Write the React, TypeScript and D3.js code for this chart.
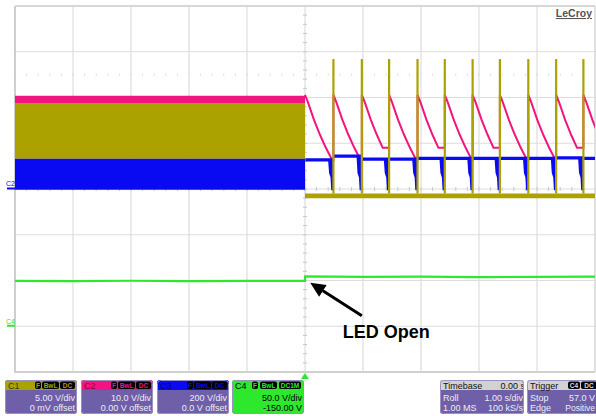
import React, { useEffect } from 'react';
import * as d3 from 'd3';

// ---------- screen / channel settings ----------
const timeDomain: [number, number] = [-5, 5]; // s (1.00 s/div, 10 div)
const divDomain: [number, number] = [-4, 4];  // vertical divisions
const channelNames = ['C1', 'C2', 'C3', 'C4'];
const voltsPerDiv = [5, 10, 200, 50];
const offsetVolts = [0, 0, 0, -150];

// ---------- data (volts) ----------
// before the LED opens (t < 0): min/max envelopes
const c1EnvelopeBefore = [3.3, 9.4];
const c2EnvelopeBefore = [18.8, 20.4];
const c3EnvelopeBefore = [-3, 132];
const c4Before: [number, number][] = [[-5, 49.6], [-4, 49.3], [-3, 49.7], [-2, 49.4], [-1, 49.6], [0, 49.5]];

// after the LED opens
const c1BaseAfter = [-1.0, -0.5];
const c1SpikeTop = 14.2;
const spikeTimes = [0.49, 0.98, 1.45, 1.94, 2.41, 2.89, 3.36, 3.85, 4.33, 4.8];
const c2DecayAfterReset: [number, number][] = [[0, 20.6], [0.05, 19.0], [0.155, 15.1], [0.26, 11.8], [0.36, 9.0], [0.47, 6.3]];
const c3LevelsAfter = [127, 144, 131, 131, 134, 134, 134, 134, 134, 136, 134];
const c3DipLowBeforeSpike: [number, number][] = [[-0.075, 70], [-0.05, 50], [-0.038, -6], [-0.004, -6]];
const c4After: [number, number][] = [[0, 54.6], [1, 54.0], [2, 54.3], [3, 53.6], [4, 54.0], [5, 54.2]];

// channel panel texts
const panelVdivText = ['5.00 V/div', '10.0 V/div', '200 V/div', '50.0 V/div'];
const panelOffsetText = ['0 mV offset', '0.00 V offset', '0.0 V offset', '-150.00 V'];
const timebaseTexts = ['Timebase', '0.00 s', 'Roll', '1.00 s/div', '1.00 MS', '100 kS/s'];
const triggerTexts = ['Trigger', 'Stop', '57.0 V', 'Edge', 'Positive'];

// annotation (time s, divisions)
const annotationTip: [number, number] = [0.09, -2.05];
const annotationTail: [number, number] = [0.98, -2.77];
const annotationLabelPos: [number, number] = [0.65, -3.26];
const annotationLabel = 'LED Open';

const COL = {
  c1: '#aba200',
  c2: '#f2157f',
  c3: '#0a0af2',
  c4: '#2ee82e',
  grid: '#dddddd',
  panel: '#6e5fa8',
};

const FONT = '"Liberation Sans", Arial, Helvetica, sans-serif';

export default function App() {
  useEffect(() => {
    document.body.style.margin = '0';
  }, []);

  const W = 596, H = 416;
  const x = d3.scaleLinear().domain(timeDomain).range([15, 595]);
  const y = d3.scaleLinear().domain(divDomain).range([372, 6]);
  const toDiv = (ch: number, v: number) => (v + offsetVolts[ch]) / voltsPerDiv[ch];
  const yv = (ch: number, v: number) => y(toDiv(ch, v));

  const line = (ch: number) =>
    d3.line<[number, number]>().x(d => x(d[0])).y(d => yv(ch, d[1]));

  type Band = { t: number; lo: number; hi: number };
  const band = (ch: number) =>
    d3.area<Band>().x(d => x(d.t)).y0(d => yv(ch, d.lo)).y1(d => yv(ch, d.hi));

  // ---- C1 ----
  const c1Before: Band[] = [
    { t: timeDomain[0], lo: c1EnvelopeBefore[0], hi: c1EnvelopeBefore[1] },
    { t: 0, lo: c1EnvelopeBefore[0], hi: c1EnvelopeBefore[1] },
  ];
  const c1After: Band[] = [
    { t: 0, lo: c1BaseAfter[0], hi: c1EnvelopeBefore[0] },
    { t: 0.004, lo: c1BaseAfter[0], hi: c1BaseAfter[1] },
    { t: timeDomain[1], lo: c1BaseAfter[0], hi: c1BaseAfter[1] },
  ];

  // ---- C2 ----
  const c2Before: Band[] = [
    { t: timeDomain[0], lo: c2EnvelopeBefore[0], hi: c2EnvelopeBefore[1] },
    { t: 0, lo: c2EnvelopeBefore[0], hi: c2EnvelopeBefore[1] },
  ];
  const resets = [0, ...spikeTimes];
  const c2AfterPts: [number, number][] = [];
  resets.forEach((r, k) => {
    const end = k + 1 < resets.length ? resets[k + 1] : timeDomain[1] + 0.5;
    let last = c2DecayAfterReset[0][1];
    c2DecayAfterReset.forEach(([dt, v]) => {
      if (r + dt < end) {
        c2AfterPts.push([r + dt, v]);
        last = v;
      }
    });
    c2AfterPts.push([end, last]);
  });

  // ---- C3 ----
  const c3Before: Band[] = [
    { t: timeDomain[0], lo: c3EnvelopeBefore[0], hi: c3EnvelopeBefore[1] },
    { t: 0, lo: c3EnvelopeBefore[0], hi: c3EnvelopeBefore[1] },
  ];
  const c3AfterPts: Band[] = [];
  resets.forEach((r, k) => {
    const L = c3LevelsAfter[k];
    const end = k + 1 < resets.length ? resets[k + 1] : timeDomain[1] + 0.2;
    c3AfterPts.push({ t: r + 0.006, lo: L - 7, hi: L + 7 });
    if (k + 1 < resets.length) {
      c3AfterPts.push({ t: end - 0.09, lo: L - 7, hi: L + 7 });
      c3DipLowBeforeSpike.forEach(([dt, v]) => c3AfterPts.push({ t: end + dt, lo: v, hi: L + 7 }));
    } else {
      c3AfterPts.push({ t: end, lo: L - 7, hi: L + 7 });
    }
  });

  // ---- grid ----
  const vLines = d3.range(-5, 5.01, 1);
  const hLines = d3.range(-4, 4.01, 1);
  const minorX = d3.range(-5, 5.001, 0.2);
  const minorY = d3.range(-4, 4.001, 0.2);

  // ---- bottom panels ----
  const boxW = 72;
  const boxXs = [5, 81, 157, 232];
  const headerCols = [COL.c1, COL.c2, COL.c3, COL.c4];
  const headerTextCols = ['#3d3a00', '#8a0045', '#00006e', '#000000'];

  const icon = (bx: number, w: number, label: string, col: string, key: string) => (
    <g key={key}>
      <rect x={bx} y={381.5} width={w} height={7.5} rx={2} fill="#000" />
      <text x={bx + w / 2} y={387.8} fontSize={6.5} fontWeight="bold" textAnchor="middle" fill={col} fontFamily={FONT}>
        {label}
      </text>
    </g>
  );

  // arrow
  const tip = [x(annotationTip[0]), y(annotationTip[1])];
  const tail = [x(annotationTail[0]), y(annotationTail[1])];
  const ang = Math.atan2(tip[1] - tail[1], tip[0] - tail[0]);
  const headLen = 15, headHalf = 7;
  const baseC = [tip[0] - headLen * Math.cos(ang), tip[1] - headLen * Math.sin(ang)];
  const perp = [-Math.sin(ang), Math.cos(ang)];
  const head = [
    tip,
    [baseC[0] + perp[0] * headHalf, baseC[1] + perp[1] * headHalf],
    [baseC[0] - perp[0] * headHalf, baseC[1] - perp[1] * headHalf],
  ];

  return (
    <svg width={W} height={H} style={{ position: 'absolute', left: 0, top: 0, background: '#fff' }} fontFamily={FONT}>
      <defs>
        <clipPath id="plot">
          <rect x={15} y={6} width={580} height={366} />
        </clipPath>
        {boxXs.map((bx, i) => (
          <clipPath id={`box${i}`} key={i}>
            <rect x={bx} y={380} width={boxW} height={34} rx={3} />
          </clipPath>
        ))}
        <clipPath id="tb"><rect x={440} y={380} width={84} height={34} rx={3} /></clipPath>
        <clipPath id="tr"><rect x={527} y={380} width={80} height={34} rx={3} /></clipPath>
      </defs>

      {/* grid */}
      <g>
        {vLines.map(t => (
          <line key={`v${t}`} x1={x(t)} x2={x(t)} y1={6} y2={372} stroke={COL.grid} strokeWidth={1.2} />
        ))}
        {hLines.map(d => (
          <line key={`h${d}`} x1={15} x2={595} y1={y(d)} y2={y(d)} stroke={COL.grid} strokeWidth={1.2} />
        ))}
        {minorX.map(t => (
          <line key={`mx${t}`} x1={x(t)} x2={x(t)} y1={y(0) - 2} y2={y(0) + 2} stroke="#c8c8c8" strokeWidth={1} />
        ))}
        {minorY.map(d => (
          <line key={`my${d}`} x1={x(0) - 2} x2={x(0) + 2} y1={y(d)} y2={y(d)} stroke="#c8c8c8" strokeWidth={1} />
        ))}
        {minorX.map(t => (
          <line key={`mr${t}`} x1={x(t)} x2={x(t)} y1={y(2.5) - 1} y2={y(2.5) + 1} stroke="#dadada" strokeWidth={1} />
        ))}
        <line x1={15} x2={15} y1={6} y2={373} stroke="#c4c4c4" strokeWidth={1.5} />
        <line x1={15} x2={595} y1={6} y2={6} stroke="#d6d6d6" strokeWidth={2} />
        <line x1={15} x2={595} y1={372} y2={372} stroke="#d0d0d0" strokeWidth={2} />
        <line x1={595} x2={595} y1={6} y2={372} stroke="#dcdcdc" strokeWidth={1.5} />
      </g>

      {/* traces */}
      <g clipPath="url(#plot)">
        {/* C4 */}
        <path d={line(3)([...c4Before, ...c4After]) || ''} fill="none" stroke={COL.c4} strokeWidth={2.2} />
        {/* C2 */}
        <path d={band(1)(c2Before) || ''} fill={COL.c2} />
        <path d={line(1)(c2AfterPts) || ''} fill="none" stroke={COL.c2} strokeWidth={2} />
        {/* C1 */}
        <path d={band(0)(c1Before) || ''} fill={COL.c1} />
        <path d={band(0)(c1After) || ''} fill={COL.c1} />
        {/* C3 */}
        <path d={band(2)(c3Before) || ''} fill={COL.c3} />
        <path d={band(2)(c3AfterPts) || ''} fill={COL.c3} />
        {/* C1 spikes */}
        {spikeTimes.map(t => (
          <line key={`s${t}`} x1={x(t)} x2={x(t)} y1={yv(0, c1BaseAfter[1])} y2={yv(0, c1SpikeTop)} stroke={COL.c1} strokeWidth={2.2} />
        ))}
      </g>

      {/* channel ground markers */}
      <text x={6} y={186} fontSize={7} fill={COL.c3}>C2</text>
      <rect x={7} y={y(0) - 1.5} width={8} height={2} fill={COL.c3} />
      <text x={6} y={323.5} fontSize={7} fill={COL.c4}>C4</text>
      <rect x={7} y={yv(3, 0) - 1.5} width={8} height={2} fill={COL.c4} />

      {/* trigger marker */}
      <path d={`M${x(0)},373 L${x(0) - 4},379 L${x(0) + 4},379 Z`} fill={COL.c4} />

      {/* LeCroy */}
      <text x={592} y={17} fontSize={10.5} fontWeight="bold" textAnchor="end" fill="#555" textDecoration="underline">LeCroy</text>

      {/* annotation */}
      <line x1={tail[0]} y1={tail[1]} x2={baseC[0]} y2={baseC[1]} stroke="#000" strokeWidth={3} />
      <path d={`M${head.map(p => p.join(',')).join('L')}Z`} fill="#000" />
      <text x={x(annotationLabelPos[0])} y={y(annotationLabelPos[1])} fontSize={18} fontWeight="bold" fill="#000">
        {annotationLabel}
      </text>

      {/* channel panels */}
      {boxXs.map((bx, i) => {
        const isC4 = i === 3;
        return (
          <g key={`p${i}`} clipPath={`url(#box${i})`}>
            <rect x={bx} y={380} width={boxW} height={34} fill={isC4 ? COL.c4 : COL.panel} />
            <rect x={bx} y={380} width={boxW} height={10} fill={headerCols[i]} />
            <text x={bx + 3} y={388.5} fontSize={9} fill={headerTextCols[i]}>{channelNames[i]}</text>
            {isC4
              ? [
                  icon(bx + 20, 6, 'F', COL.c4, 'f'),
                  icon(bx + 28, 17, 'BwL', COL.c4, 'b'),
                  icon(bx + 47, 22, 'DC1M', COL.c4, 'd'),
                ]
              : [
                  icon(bx + 30, 6, 'F', headerCols[i], 'f'),
                  icon(bx + 37, 17, 'BwL', headerCols[i], 'b'),
                  icon(bx + 55, 15, 'DC', headerCols[i], 'd'),
                ]}
            <text x={bx + boxW - 2} y={400.5} fontSize={9} textAnchor="end" fill={isC4 ? '#000' : '#ececf6'}>{panelVdivText[i]}</text>
            <text x={bx + boxW - 2} y={411} fontSize={9} textAnchor="end" fill={isC4 ? '#000' : '#ececf6'}>{panelOffsetText[i]}</text>
            <rect x={bx + 0.5} y={380.5} width={boxW - 1} height={33} rx={3} fill="none" stroke="#9a90c4" strokeWidth={1} />
          </g>
        );
      })}

      {/* timebase */}
      <g clipPath="url(#tb)">
        <rect x={440} y={380} width={84} height={34} fill={COL.panel} />
        <rect x={440} y={380} width={84} height={10} fill="#d2d2d2" />
        <text x={443} y={388.5} fontSize={9} fill="#111">{timebaseTexts[0]}</text>
        <text x={525} y={388.5} fontSize={9} textAnchor="end" fill="#111">{timebaseTexts[1]}</text>
        <text x={443} y={400.5} fontSize={9} fill="#ececf6">{timebaseTexts[2]}</text>
        <text x={523} y={400.5} fontSize={9} textAnchor="end" fill="#ececf6">{timebaseTexts[3]}</text>
        <text x={443} y={411} fontSize={9} fill="#ececf6">{timebaseTexts[4]}</text>
        <text x={523} y={411} fontSize={9} textAnchor="end" fill="#ececf6">{timebaseTexts[5]}</text>
        <rect x={440.5} y={380.5} width={83} height={33} rx={3} fill="none" stroke="#9a90c4" strokeWidth={1} />
      </g>

      {/* trigger */}
      <g clipPath="url(#tr)">
        <rect x={527} y={380} width={80} height={34} fill={COL.panel} />
        <rect x={527} y={380} width={80} height={10} fill="#d2d2d2" />
        <text x={530} y={388.5} fontSize={9} fill="#111">{triggerTexts[0]}</text>
        {icon(568, 12, 'C4', '#dddddd', 'tc4')}
        {icon(581, 16, 'DC', '#dddddd', 'tdc')}
        <text x={530} y={400.5} fontSize={9} fill="#ececf6">{triggerTexts[1]}</text>
        <text x={595} y={400.5} fontSize={9} textAnchor="end" fill="#ececf6">{triggerTexts[2]}</text>
        <text x={530} y={411} fontSize={9} fill="#ececf6">{triggerTexts[3]}</text>
        <text x={595} y={411} fontSize={8.5} textAnchor="end" fill="#ececf6">{triggerTexts[4]}</text>
        <rect x={527.5} y={380.5} width={79} height={33} rx={3} fill="none" stroke="#9a90c4" strokeWidth={1} />
      </g>
    </svg>
  );
}
